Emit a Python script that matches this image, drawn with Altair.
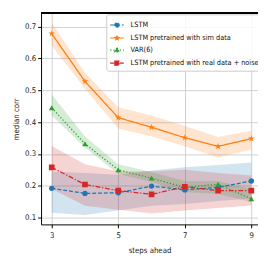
import altair as alt
import pandas as pd

steps = [3, 4, 5, 6, 7, 8, 9]
series_names = ["LSTM", "LSTM pretrained with sim data", "VAR(6)",
                "LSTM pretrained with real data + noise"]
colors = ["#1f77b4", "#ff7f0e", "#2ca02c", "#d62728"]

lstm = [0.192, 0.176, 0.178, 0.199, 0.187, 0.195, 0.215]
lstm_lo = [0.115, 0.108, 0.122, 0.137, 0.143, 0.152, 0.160]
lstm_hi = [0.245, 0.240, 0.235, 0.248, 0.258, 0.265, 0.273]

sim = [0.678, 0.528, 0.414, 0.384, 0.351, 0.324, 0.348]
sim_lo = [0.640, 0.505, 0.380, 0.355, 0.324, 0.289, 0.314]
sim_hi = [0.712, 0.555, 0.447, 0.421, 0.388, 0.353, 0.373]

var6 = [0.445, 0.332, 0.250, 0.224, 0.195, 0.205, 0.159]
var6_lo = [0.421, 0.320, 0.237, 0.212, 0.180, 0.175, 0.148]
var6_hi = [0.487, 0.355, 0.268, 0.243, 0.215, 0.215, 0.190]

real = [0.258, 0.204, 0.185, 0.173, 0.197, 0.185, 0.185]
real_lo = [0.190, 0.137, 0.125, 0.113, 0.122, 0.130, 0.138]
real_hi = [0.325, 0.268, 0.245, 0.246, 0.250, 0.240, 0.232]

x_ticks = [3, 5, 7, 9]
y_ticks = [0.1, 0.2, 0.3, 0.4, 0.5, 0.6, 0.7]

all_series = [(lstm, lstm_lo, lstm_hi), (sim, sim_lo, sim_hi),
              (var6, var6_lo, var6_hi), (real, real_lo, real_hi)]
rows = []
for name, (m, lo, hi) in zip(series_names, all_series):
    for s, a, b, c in zip(steps, m, lo, hi):
        rows.append({"steps": s, "model": name, "med": a, "lo": b, "hi": c})
df = pd.DataFrame(rows)

FONT = "DejaVu Sans Condensed"
W, H = 223, 217

star = ("M0,-1L0.2245,-0.309L0.951,-0.309L0.363,0.118L0.588,0.809L0,0.382"
        "L-0.588,0.809L-0.363,0.118L-0.951,-0.309L-0.2245,-0.309Z")
plot_shapes = ["circle", star, "triangle-up", "square"]
plot_sizes = [30, 52, 34, 34]


def leg(marker):
    return "M-1,0L1,0" + marker


circ = "M0.33,0A0.33,0.33 0 1,1 -0.33,0A0.33,0.33 0 1,1 0.33,0Z"
# a squat star so that stroke joins do not lengthen its points much
sstar = ("M0,-0.3L0.088,-0.121L0.285,-0.093L0.143,0.046L0.176,0.243L0,0.15"
         "L-0.176,0.243L-0.143,0.046L-0.285,-0.093L-0.088,-0.121Z")
tri = "M0,-0.36L0.36,0.26L-0.36,0.26Z"
sq = "M-0.32,-0.32L0.32,-0.32L0.32,0.32L-0.32,0.32Z"
legend_shapes = [leg(circ), leg(sstar), leg(tri), leg(sq)]
dashes = [[4, 2], [1, 0], [1.3, 2], [5, 1.8, 1.3, 1.8]]

xscale = alt.Scale(domain=[2.68, 9.2], nice=False, zero=False)
yscale = alt.Scale(domain=[0.0786, 0.742], nice=False, zero=False)
cscale = alt.Scale(domain=series_names, range=colors)
dscale = alt.Scale(domain=series_names, range=dashes)
sscale = alt.Scale(domain=series_names, range=legend_shapes)

x_axis = alt.Axis(values=x_ticks, title="steps ahead", format="d")
y_axis = alt.Axis(values=y_ticks, title="median corr", format=".1f",
                  labelOverlap=False)

legend = alt.Legend(
    title=None, orient="none", legendX=67, legendY=1,
    symbolSize=196, symbolOpacity=1, symbolStrokeWidth=1.1,
    labelFont=FONT, labelFontSize=7.5, labelColor="#111",
    rowPadding=0.4, padding=3, fillColor="rgba(255,255,255,0.85)",
    strokeColor="#cccccc", cornerRadius=2, labelOffset=6, symbolOffset=0)

base = alt.Chart(df)

x_enc = alt.X("steps:Q", scale=xscale, axis=x_axis)
y_enc = alt.Y("med:Q", scale=yscale, axis=y_axis)
c_enc = alt.Color("model:N", scale=cscale, legend=legend)

areas = base.mark_area(opacity=0.2, clip=True).encode(
    x=x_enc,
    y=alt.Y("lo:Q", scale=yscale, axis=y_axis),
    y2="hi:Q",
    color=c_enc,
)

lines = base.mark_line(strokeWidth=1.3, clip=True).encode(
    x=x_enc, y=y_enc, color=c_enc,
    strokeDash=alt.StrokeDash("model:N", scale=dscale, legend=legend),
)

point_layers = []
for name, shp, sz in zip(series_names, plot_shapes, plot_sizes):
    point_layers.append(
        base.transform_filter(alt.datum.model == name)
        .mark_point(filled=True, opacity=1, shape=shp, size=sz, clip=True)
        .encode(x=x_enc, y=y_enc, color=c_enc)
    )

legend_layer = base.mark_point(filled=True, size=0, opacity=0, clip=True).encode(
    x=x_enc, y=y_enc, color=c_enc,
    shape=alt.Shape("model:N", scale=sscale, legend=legend),
    strokeDash=alt.StrokeDash("model:N", scale=dscale, legend=legend),
)

frame_top = base.mark_rule(color="black", strokeWidth=1).encode(
    x=alt.value(0), x2=alt.value(W), y=alt.value(0))

chart = alt.layer(areas, lines, *point_layers, legend_layer, frame_top).properties(
    width=W, height=H,
    autosize=alt.AutoSizeParams(type="none"),
    padding={"left": 34, "top": 2, "right": 0, "bottom": 29},
).configure_view(stroke=None).configure_axis(
    labelFont=FONT, titleFont=FONT, labelFontSize=8, titleFontSize=8,
    titleFontWeight="normal", labelColor="#222", titleColor="#222",
    domainColor="black", domainWidth=1, tickColor="black", tickSize=3.5,
    gridColor="#d0d0d0", gridWidth=1, labelPadding=2,
).configure_axisX(titlePadding=7, labelPadding=4).configure_axisY(titlePadding=4)

chart.save("out.html", embed_options={"renderer": "svg", "actions": False})
